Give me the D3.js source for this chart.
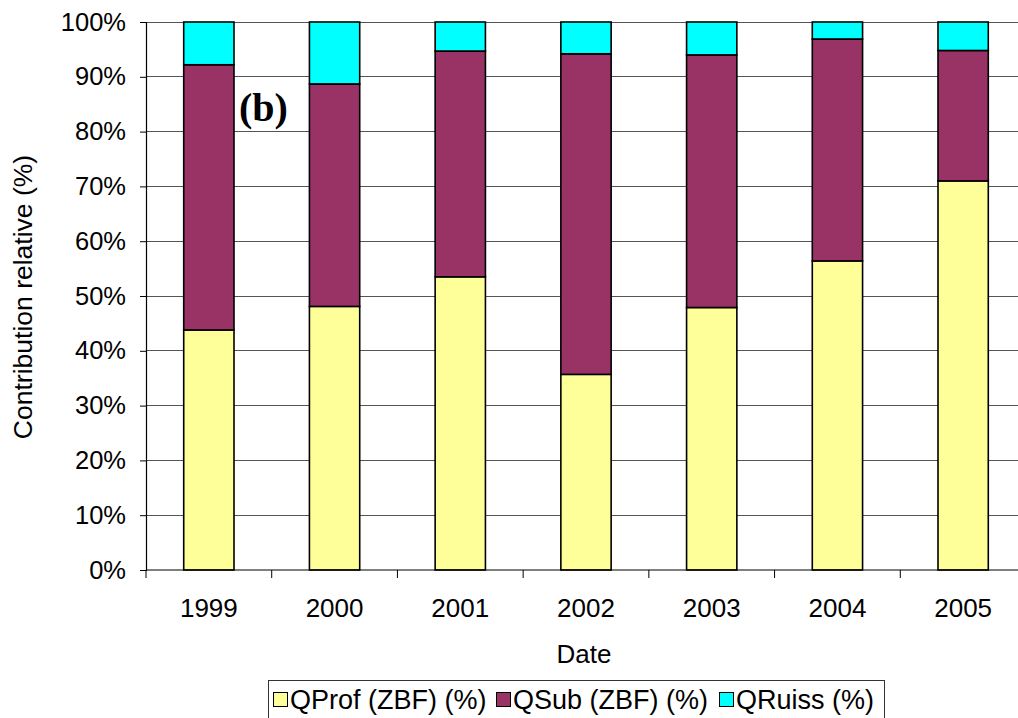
<!DOCTYPE html>
<html>
<head>
<meta charset="utf-8">
<script src="https://cdn.jsdelivr.net/npm/d3@7"></script>
<style>
  html, body { margin: 0; padding: 0; background: #fff; }
  svg { display: block; font-family: "Liberation Sans", Arial, sans-serif; }
</style>
</head>
<body>
<svg id="chart" width="1018" height="718"></svg>
<script>
// Years on the category axis
const years = ["1999", "2000", "2001", "2002", "2003", "2004", "2005"];

// Relative contribution of each flow component (%)
const qProf  = [43.8, 48.1, 53.5, 35.7, 47.9, 56.4, 71.0];
const qSub   = [48.4, 40.6, 41.2, 58.5, 46.1, 40.5, 23.8];
const qRuiss = [7.8, 11.3, 5.3, 5.8, 6.0, 3.1, 5.2];

const seriesNames = ["QProf (ZBF) (%)", "QSub (ZBF) (%)", "QRuiss (%)"];
const seriesColors = ["#FFFF99", "#993366", "#00FFFF"];
const yTicks = [0, 10, 20, 30, 40, 50, 60, 70, 80, 90, 100];

const rows = years.map((yr, i) => ({ year: yr, qProf: qProf[i], qSub: qSub[i], qRuiss: qRuiss[i] }));
const keys = ["qProf", "qSub", "qRuiss"];

const svg = d3.select("#chart");
const plotLeft = 146, plotTop = 22, plotH = 548, plotRight = 1026;

const x = d3.scaleBand().domain(years).range([plotLeft, plotRight]).padding(0);
const y = d3.scaleLinear().domain([0, 100]).range([plotTop + plotH, plotTop]);

// Horizontal gridlines
svg.append("g").selectAll("line").data(yTicks.filter(t => t > 0)).join("line")
  .attr("x1", plotLeft).attr("x2", 1018)
  .attr("y1", d => y(d)).attr("y2", d => y(d))
  .attr("stroke", "#555").attr("stroke-width", 1).attr("shape-rendering", "crispEdges");

// Stacked bars
const stack = d3.stack().keys(keys)(rows);
const barW = x.bandwidth() * 0.4;
svg.append("g").selectAll("g").data(stack).join("g")
  .attr("fill", (d, i) => seriesColors[i])
  .selectAll("rect").data(d => d).join("rect")
  .attr("x", d => x(d.data.year) + (x.bandwidth() - barW) / 2)
  .attr("width", barW)
  .attr("y", d => y(d[1]))
  .attr("height", d => y(d[0]) - y(d[1]))
  .attr("stroke", "#000").attr("stroke-width", 1.6);

// Y axis
const yAxis = svg.append("g").attr("transform", `translate(${plotLeft},0)`)
  .call(d3.axisLeft(y).tickValues(yTicks).tickFormat(d => d + "%").tickSize(6).tickPadding(14));
yAxis.select(".domain").attr("stroke", "#000").attr("stroke-width", 1.2);
yAxis.selectAll(".tick line").attr("stroke", "#000");
yAxis.selectAll("text").attr("font-size", 25.5).attr("fill", "#000")
  .attr("font-family", "Liberation Sans, Arial, sans-serif");

// X axis: ticks between categories
const xg = svg.append("g");
xg.append("line").attr("x1", plotLeft).attr("x2", 1018)
  .attr("y1", y(0)).attr("y2", y(0)).attr("stroke", "#000").attr("stroke-width", 1.2);
const bounds = years.map(d => x(d));
xg.selectAll("line.tk").data(bounds).join("line").attr("class", "tk")
  .attr("x1", d => d).attr("x2", d => d)
  .attr("y1", y(0)).attr("y2", y(0) + 8).attr("stroke", "#000");
xg.selectAll("text").data(years).join("text")
  .attr("x", d => x(d) + x.bandwidth() / 2)
  .attr("y", y(0) + 47)
  .attr("text-anchor", "middle").attr("font-size", 26).attr("fill", "#000")
  .text(d => d);

// Axis titles
svg.append("text").attr("x", 584).attr("y", 663).attr("text-anchor", "middle")
  .attr("font-size", 26).text("Date");
svg.append("text").attr("transform", "translate(32,297) rotate(-90)")
  .attr("text-anchor", "middle").attr("font-size", 26.5).text("Contribution relative (%)");

// Panel letter
svg.append("text").attr("x", 239).attr("y", 121)
  .attr("font-family", "Liberation Serif, Times New Roman, serif")
  .attr("font-weight", "bold").attr("font-size", 40).text("(b)");

// Legend
const lg = svg.append("g");
lg.append("rect").attr("x", 268.5).attr("y", 680.5).attr("width", 616).attr("height", 40)
  .attr("fill", "#fff").attr("stroke", "#333").attr("stroke-width", 1);
const legX = [273, 496, 719];
seriesNames.forEach((n, i) => {
  lg.append("rect").attr("x", legX[i] + 0.5).attr("y", 692.5).attr("width", 14).attr("height", 14)
    .attr("fill", seriesColors[i]).attr("stroke", "#000").attr("stroke-width", 1);
  lg.append("text").attr("x", legX[i] + 17).attr("y", 709).attr("font-size", 27).text(n);
});
</script>
</body>
</html>
